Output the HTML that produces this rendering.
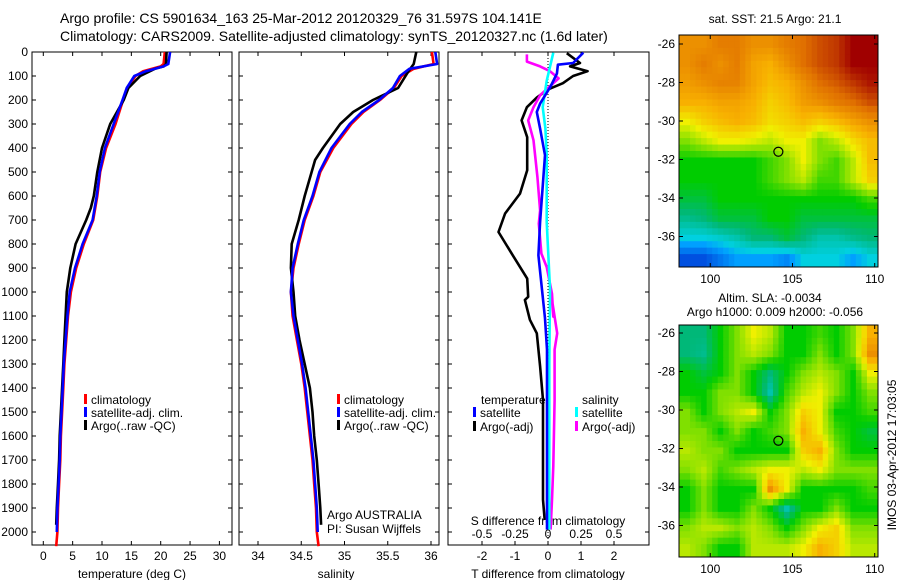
<!DOCTYPE html>
<html><head><meta charset="utf-8"><style>
html,body{margin:0;padding:0;background:#fff;}
svg{display:block;font-family:"Liberation Sans",sans-serif;}
text{font-size:12px;fill:#000;}
</style></head><body>
<svg id="c" width="900" height="580" viewBox="0 0 900 580" xmlns="http://www.w3.org/2000/svg">
<text x="60" y="23" style="font-size:14px">Argo profile: CS 5901634_163 25-Mar-2012 20120329_76 31.597S 104.141E</text>
<text x="60" y="41" style="font-size:14px">Climatology: CARS2009. Satellite-adjusted climatology: synTS_20120327.nc (1.6d later)</text>
<g id="g"></g>
</svg>
<script>
// ---- data ----
const depthTicks=[0,100,200,300,400,500,600,700,800,900,1000,1100,1200,1300,1400,1500,1600,1700,1800,1900,2000];
const tempTicks=[0,5,10,15,20,25,30];
const salTicks=[34,34.5,35,35.5,36];
const tdTicks=[-2,-1,0,1,2];
const sdTicks=[-0.5,-0.25,0,0.25,0.5];
const sdTickLabels=["-0.5","-0.25","0","0.25","0.5"];
const lonTicks=[100,105,110];
const latTicks=[-26,-28,-30,-32,-34,-36];

const tClimDepth=[0,50,60,80,100,150,200,300,400,500,600,700,800,900,1000,1100,1200,1300,1400,1500,1600,1700,1800,1900,2000,2059];
const tClim=[20.7,20.5,20,17,15.7,14.3,13.6,12.3,10.7,9.7,9.2,8.5,6.9,5.6,4.7,4.2,3.9,3.6,3.4,3.2,3.0,2.9,2.7,2.5,2.4,2.2];
const tSatDepth=[0,50,60,80,100,150,200,300,400,500,600,700,800,900,1000,1100,1200,1300,1400,1500,1600,1700,1800,1900,2000];
const tSat=[21.6,21.3,20.5,17.5,15.5,14.2,13.5,12.0,10.5,9.6,9.1,8.4,6.7,5.4,4.5,4.1,3.8,3.5,3.3,3.1,2.9,2.8,2.6,2.4,2.3];
const tArgoDepth=[0,50,60,70,100,150,200,300,400,500,600,650,700,800,900,1000,1100,1200,1300,1400,1500,1600,1700,1800,1900,1970];
const tArgo=[21.0,20.9,20.5,19,16.5,14.5,13.7,11.4,10.0,9.2,8.6,8.1,7.3,5.5,4.6,4.0,3.8,3.6,3.4,3.2,3.0,2.8,2.7,2.5,2.3,2.2];

const sClimDepth=[0,50,70,100,150,200,250,300,400,500,600,700,800,900,1000,1100,1200,1300,1400,1500,1600,1700,1800,1900,2000,2059];
const sClim=[36.01,36.03,35.8,35.66,35.57,35.41,35.22,35.08,34.87,34.72,34.64,34.54,34.47,34.41,34.38,34.4,34.45,34.5,34.54,34.57,34.6,34.63,34.65,34.67,34.68,34.7];
const sSatDepth=[0,50,70,100,150,200,250,300,400,500,600,700,800,900,1000,1100,1200,1300,1400,1500,1600,1700,1800,1900,2000];
const sSat=[36.05,36.07,35.75,35.64,35.56,35.4,35.2,35.06,34.85,34.71,34.63,34.53,34.46,34.4,34.38,34.41,34.46,34.51,34.55,34.58,34.61,34.64,34.66,34.68,34.69];
const sArgoDepth=[0,50,80,150,200,250,300,400,450,600,700,800,900,1000,1100,1200,1300,1400,1500,1600,1700,1800,1900,1970];
const sArgo=[35.83,35.8,35.74,35.62,35.33,35.1,34.95,34.75,34.66,34.54,34.47,34.39,34.38,34.41,34.43,34.48,34.54,34.6,34.63,34.65,34.68,34.7,34.72,34.73];

const dTArgoDepth=[5,46,60,80,100,130,156,190,230,285,355,493,590,673,750,840,944,1020,1033,1116,1172,1310,1450,1866,1950];
const dTArgo=[0.57,0.97,0.67,1.2,0.76,0.45,0,-0.34,-0.64,-0.8,-0.63,-0.63,-0.85,-1.3,-1.5,-1.1,-0.63,-0.6,-0.7,-0.55,-0.34,-0.24,-0.15,-0.15,-0.1];
const dTSatDepth=[3,46,53,90,146,215,250,319,430,708,847,1110,1240,1866,1990];
const dTSat=[1.07,0.76,0.3,0.27,0.07,-0.24,-0.34,-0.24,-0.09,-0.24,-0.29,-0.09,-0.03,-0.03,-0.03];
const dSSatDepth=[3,120,230,319,430,708,986,1300,1990];
const dSSat=[0.04,-0.01,-0.04,-0.02,-0.01,-0.01,0.015,0.01,0.01];
const dSArgoDepth=[10,40,60,80,110,150,180,230,285,368,520,660,715,840,896,1007,1103,1033,1172,1240,1450,1725,1866,1990];
const dSArgo=[-0.16,-0.16,-0.06,0.015,0.08,0,-0.06,-0.11,-0.15,-0.11,-0.08,-0.06,-0.07,-0.05,-0.01,0.03,0.04,0.03,0.07,0.05,0.05,0.04,0.03,0.02];

// map grids (12 lon cols x 12 lat rows), colour index 0..10
const sstGrid=[
[8.5,8.5,8.8,8.8,8.5,8.5,8.8,9,9.3,9.5,10,10],
[8.5,8.8,8.5,8.8,8.2,8,8.5,9,9.3,9.5,10,10],
[8.3,8.5,8.7,8.7,8.2,7.8,8,8.5,9,9.2,9.5,9.8],
[8,8,8.2,8.2,8,7.5,7.8,8.3,8.5,8.8,9,9.3],
[7,7.5,7.8,8,7.8,7.3,7.5,7.8,7.5,7.8,8.2,8.5],
[6,6.5,7,7,6.8,6.5,7,7,6,6.5,7.3,7.8],
[5,5,5,5,5,5.5,6,7,6,5.5,6.5,7.8],
[5,5,5,5,5,5.5,6,6.5,5.5,5.5,6.5,7.5],
[4.5,4.5,5,5,5,5,5,5,5,5,5,5.5],
[3.8,4,4.5,4.5,4.5,5,5,4.5,4.5,4.5,4.5,4.5],
[3,3,3.2,3.5,4,4,4.5,4,3.5,3.5,3.8,4],
[1.5,1.5,2,2.5,2.5,2.5,2.2,3,3,3,2.5,3]];
const slaGrid=[
[4,4,5,6,7,6.5,5,5,5.5,5,6,8],
[4,3.8,5,6,6.5,6,5,5,6,5,6,8.5],
[5,4.5,5,6,5,4,5,6,6.5,6,5,7],
[5,5,6,6,5,3.5,5.5,6.5,7,6,5,6],
[6,5,6,6.5,7,5,6,7.5,7,5,5,5.5],
[6,6,5,6,5,5.5,6,8,7,5.5,5,4.5],
[6.5,6,6,5,5,5,5,7.5,8,6,5,5],
[6,6.5,5.5,6,6.5,7,7,6.5,7,6,6,6],
[5,6,5,5,5,8.5,7,5,5,5,5,5.5],
[5,6,5,5,6,5,3.5,5,5,6,5,5],
[6,6.5,6.5,6,6.5,6,5,6,7,7.5,6,6],
[6.5,6,5,5,6.5,6.5,6.5,7,8,7.5,6.5,6.5]];
const argoLon=104.141, argoLat=-31.597;

// ---- helpers ----
const NS='http://www.w3.org/2000/svg';
const G=document.getElementById('g');
function el(tag,attrs,parent){const e=document.createElementNS(NS,tag);for(const k in attrs)e.setAttribute(k,attrs[k]);(parent||G).appendChild(e);return e;}
function txt(x,y,s,anchor,parent){const t=el('text',{x:x,y:y,'text-anchor':anchor||'start'},parent);t.textContent=s;return t;}
const top0=52, bot0=545;
const yD=d=>top0+d*0.24;
const xT=t=>43.3+t*5.87;
const xS=s=>258+(s-34)*86.5;
const xTD=t=>548+t*33;
const xSD=s=>548+s*132;

function frame(x0,x1,name){
  const r=el('rect',{x:x0,y:top0,width:x1-x0,height:bot0-top0,fill:'none',stroke:'#000','stroke-width':1});
  
  
  depthTicks.forEach(d=>{el('line',{x1:x0,x2:x0+4,y1:yD(d),y2:yD(d),stroke:'#000'});el('line',{x1:x1,x2:x1-4,y1:yD(d),y2:yD(d),stroke:'#000'});});
}
function xticks(vals,fx,labels,name){
  const g=el('g',{});
  
  
  vals.forEach((v,i)=>{const x=fx(v);el('line',{x1:x,x2:x,y1:top0,y2:top0+4,stroke:'#000'},g);el('line',{x1:x,x2:x,y1:bot0,y2:bot0-4,stroke:'#000'},g);txt(x,560,labels?labels[i]:String(v),'middle',g);});
}
function line(ds,vs,fx,color,name){
  const p=el('polyline',{points:ds.map((d,i)=>fx(vs[i]).toFixed(1)+','+yD(d).toFixed(1)).join(' '),fill:'none',stroke:color,'stroke-width':2.6,'stroke-linejoin':'round'});
  
  
}
function legend(x,y,color,label,name){
  const g=el('g',{});
  
  
  el('rect',{x:x,y:y-10,width:3,height:10,fill:color},g);
  txt(x+7,y,label,'start',g);
}

// ---- panel 1: temperature ----
frame(32,232,'temperature-panel');
const yl=el('g',{});


depthTicks.forEach(d=>txt(28,yD(d)+4,String(d),'end',yl));
xticks(tempTicks,xT,null,'temperature-x-axis');
txt(132,578,'temperature (deg C)','middle');
line(tClimDepth,tClim,xT,'#f00','temp-climatology-line');
line(tArgoDepth,tArgo,xT,'#000','temp-argo-line');
line(tSatDepth,tSat,xT,'#00f','temp-satellite-line');
legend(84,404,'#f00','climatology','legend-climatology');
legend(84,417,'#00f','satellite-adj. clim.','legend-satellite');
legend(84,430,'#000','Argo(..raw -QC)','legend-argo');

// ---- panel 2: salinity ----
frame(239,439,'salinity-panel');
xticks(salTicks,xS,null,'salinity-x-axis');
txt(336,578,'salinity','middle');
line(sClimDepth,sClim,xS,'#f00','sal-climatology-line');
line(sArgoDepth,sArgo,xS,'#000','sal-argo-line');
line(sSatDepth,sSat,xS,'#00f','sal-satellite-line');
legend(337,404,'#f00','climatology','legend2-climatology');
legend(337,417,'#00f','satellite-adj. clim.','legend2-satellite');
legend(337,430,'#000','Argo(..raw -QC)','legend2-argo');
txt(327,519,'Argo AUSTRALIA');
txt(327,533,'PI: Susan Wijffels');

// ---- panel 3: differences ----
frame(448,649,'difference-panel');
el('line',{x1:548,x2:548,y1:top0,y2:bot0,stroke:'#000','stroke-dasharray':'1,2'});
xticks(tdTicks,xTD,null,'t-diff-x-axis');
const sdg=el('g',{});


sdTicks.forEach((v,i)=>txt(xSD(v),538,sdTickLabels[i],'middle',sdg));
txt(548,525,'S difference from climatology','middle',sdg);
txt(548,578,'T difference from climatology','middle');
line(dTArgoDepth,dTArgo,xTD,'#000','tdiff-argo-line');
line(dSArgoDepth,dSArgo,xSD,'#f0f','sdiff-argo-line');
line(dSSatDepth,dSSat,xSD,'#0ff','sdiff-satellite-line');
line(dTSatDepth,dTSat,xTD,'#00f','tdiff-satellite-line');
txt(481,404,'temperature');
txt(582,404,'salinity');
legend(473,417,'#00f','satellite','legend3-t-satellite');
legend(473,431,'#000','Argo(-adj)','legend3-t-argo');
legend(575,417,'#0ff','satellite','legend3-s-satellite');
legend(575,431,'#f0f','Argo(-adj)','legend3-s-argo');

// ---- maps ----
const stops=[[0,[0,16,160]],[1.5,[0,80,224]],[2.5,[0,160,255]],[3,[0,208,224]],[4,[0,184,120]],[5,[0,204,0]],[6,[128,224,0]],[7,[240,240,0]],[8,[248,176,0]],[9,[224,112,0]],[10,[160,0,0]]];
function cmap(v){for(let i=1;i<stops.length;i++){if(v<=stops[i][0]){const a=stops[i-1],b=stops[i],f=(v-a[0])/(b[0]-a[0]);return 'rgb('+a[1].map((c,k)=>Math.round(c+(b[1][k]-c)*f)).join(',')+')';}}return 'rgb(160,0,0)';}
function sample(grid,fr,fc){
  const nr=grid.length,nc=grid[0].length;
  const r=Math.min(Math.max(fr,0),nr-1),c=Math.min(Math.max(fc,0),nc-1);
  const r0=Math.floor(r),c0=Math.floor(c),r1=Math.min(r0+1,nr-1),c1=Math.min(c0+1,nc-1),a=r-r0,b=c-c0;
  return grid[r0][c0]*(1-a)*(1-b)+grid[r0][c1]*(1-a)*b+grid[r1][c0]*a*(1-b)+grid[r1][c1]*a*b;
}
function map(grid,x0,y0,name,latRef){
  const w=199,h=232,lonL=98.1,lonR=110.2,up=3;
  const xL=lon=>x0+(lon-lonL)/(lonR-lonL)*w;
  const yL=lat=>latRef+(-26-lat)*19.25;
  const g=el('g',{});
  
  
  const nr=grid.length*up,nc=grid[0].length*up,cw=w/nc,ch=h/nr;
  for(let r=0;r<nr;r++)for(let c=0;c<nc;c++){
    const v=sample(grid,(r+0.5)/up-0.5,(c+0.5)/up-0.5);
    const cell=el('rect',{x:(x0+c*cw).toFixed(2),y:(y0+r*ch).toFixed(2),width:(cw+0.5).toFixed(2),height:(ch+0.5).toFixed(2),fill:cmap(v)},g);
    
    
  }
  el('rect',{x:x0,y:y0,width:w,height:h,fill:'none',stroke:'#000'},g);
  lonTicks.forEach(l=>{const x=xL(l);el('line',{x1:x,x2:x,y1:y0,y2:y0+4,stroke:'#000'},g);el('line',{x1:x,x2:x,y1:y0+h,y2:y0+h-4,stroke:'#000'},g);txt(x,y0+h+16,String(l),'middle',g);});
  latTicks.forEach(l=>{const y=yL(l);el('line',{x1:x0,x2:x0+4,y1:y,y2:y,stroke:'#000'},g);el('line',{x1:x0+w,x2:x0+w-4,y1:y,y2:y,stroke:'#000'},g);txt(x0-4,y+4,String(l),'end',g);});
  const m=el('circle',{cx:xL(argoLon),cy:yL(argoLat),r:4.5,fill:'none',stroke:'#000','stroke-width':1.2},g);
  
  
}
map(sstGrid,679,35,'sst-map',44);
txt(775,23,'sat. SST: 21.5 Argo: 21.1','middle');
map(slaGrid,679,325,'sla-map',333);
txt(770,302,'Altim. SLA: -0.0034','middle');
txt(775,316,'Argo h1000: 0.009 h2000: -0.056','middle');
const rt=txt(0,0,'IMOS 03-Apr-2012 17:03:05','middle');
rt.setAttribute('transform','translate(896,455) rotate(-90)');


</script>
</body></html>
